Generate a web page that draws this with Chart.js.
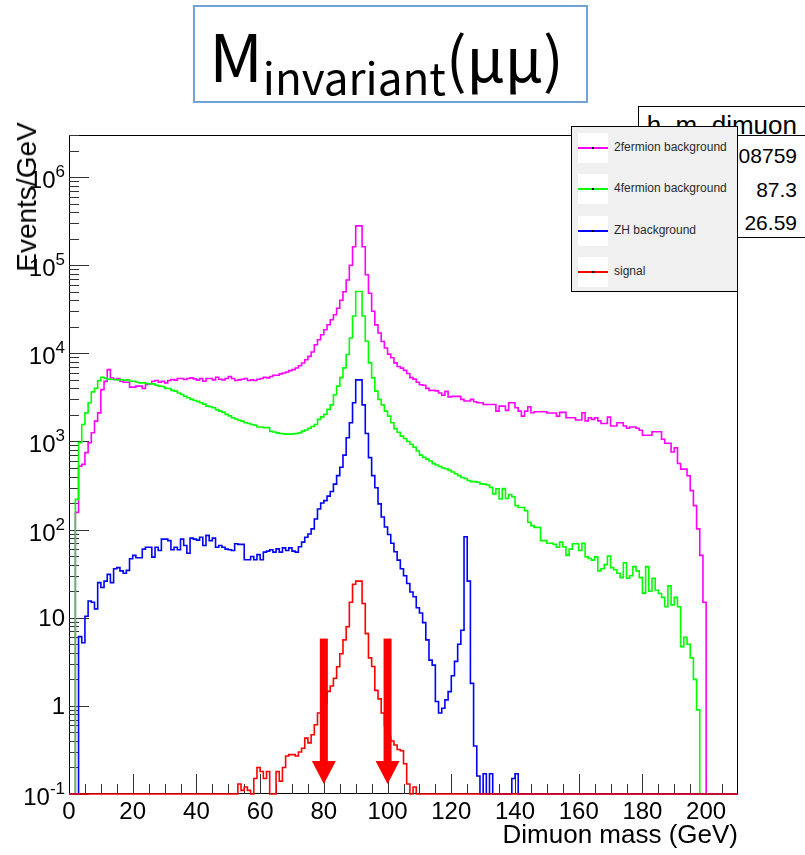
<!DOCTYPE html>
<html>
<head>
<meta charset="utf-8">
<title>M invariant (μμ)</title>
<script src="https://cdn.jsdelivr.net/npm/chart.js@4.4.1/dist/chart.umd.min.js"></script>
<style>
  html, body { margin: 0; padding: 0; background: #fff; }
  #wrap { position: relative; width: 805px; height: 855px; overflow: hidden; font-family: 'Liberation Sans', Arial, sans-serif; }
  #chart { position: absolute; left: 0; top: 0; }
  .abs { position: absolute; box-sizing: border-box; }
  #title-box { left: 193px; top: 5px; width: 395px; height: 98px; border: 2px solid #72a2d8; background: #fff;
               font-family: 'Noto Sans CJK JP', 'Noto Sans', sans-serif; color: #000; white-space: nowrap; }
  #title-box .line { position: absolute; left: 0; right: 8px; top: 12px; text-align: center; line-height: 68px; font-size: 66px; }
  #title-box .sub { font-size: 44px; vertical-align: -13px; }
  #title-box .mu { font-size: 61px; }
  #stats { left: 638px; top: 106px; width: 180px; height: 132px; border: 1px solid #000; background: #fff; }
  #stats .head { position: absolute; left: 0; top: 0; width: 100%; height: 28px; border-bottom: 1px solid #000; overflow: hidden; }
  #stats .txt { position: absolute; right: 20px; font-size: 26px; line-height: 26px; white-space: nowrap; }
  #stats .val { position: absolute; right: 20px; font-size: 21px; line-height: 22px; white-space: nowrap; }
  #legend { left: 571px; top: 126px; width: 167px; height: 166px; border: 1px solid #000; background: #f0f0f0; }
  .entry { position: absolute; left: 6px; width: 160px; height: 30px; }
  .entry .sw { position: absolute; left: 0; top: 0; width: 30px; height: 30px; background: #fff; }
  .entry .ln { position: absolute; left: 0; top: 14px; width: 30px; height: 2px; }
  .entry .dot { position: absolute; left: 14px; top: 14px; width: 2px; height: 2px; background: #000; }
  .entry .lab { position: absolute; left: 36px; top: 6px; font-size: 12px; line-height: 16px; color: #2a2a2a; white-space: nowrap; }
  #ytitle { left: 27px; top: 197px; font-size: 28px; line-height: 28px; white-space: nowrap; transform: translate(-50%, -50%) rotate(-90deg); }
  #xtitle { right: 67px; top: 820px; font-size: 26px; line-height: 28px; white-space: nowrap; }
</style>
</head>
<body>
<div id="wrap">
  <canvas id="chart" width="805" height="855"></canvas>
  <div id="title-box" class="abs"><div class="line">M<span class="sub">invariant</span><span class="mu">(μμ)</span></div></div>
  <div id="stats" class="abs"></div>
  <div id="legend" class="abs"></div>
  <div id="ytitle" class="abs">Events/GeV</div>
  <div id="xtitle" class="abs">Dimuon mass (GeV)</div>
</div>
<script>
// histogram: 1 GeV bins from 0 to 210
const X_MIN = 0, X_MAX = 210, BIN_WIDTH = 1;
const Y_MIN = 0.1, Y_MAX = 3e6;

const xTicks = [0, 20, 40, 60, 80, 100, 120, 140, 160, 180, 200];
const yTicks = [0.1, 1, 10, 100, 1000, 10000, 100000, 1000000];
// base and exponent of each y label ('' = no exponent)
const yTickBase = ['10', '1', '10', '10', '10', '10', '10', '10'];
const yTickExp = ['-1', '', '', '2', '3', '4', '5', '6'];

const seriesNames = ['2fermion background', '4fermion background', 'ZH background', 'signal'];
const seriesColors = ['#ff00ff', '#00ff00', '#0000ff', '#ff0000'];

// events per bin, bins 0..209
const twoFermion = [
  0, 0, 157, 525, 550, 746, 968, 1255, 1700, 2110,
  3870, 4800, 6530, 5250, 5040, 5170, 4830, 4700, 4700, 4130,
  4130, 4240, 4240, 3990, 4430, 4500, 4830, 4910, 4700, 4830,
  4620, 4910, 5040, 4960, 5170, 5170, 5040, 5170, 5260, 5130,
  4960, 5170, 4830, 5170, 5170, 5000, 5360, 5080, 5000, 5170,
  5450, 5170, 4910, 5000, 5080, 5170, 4910, 5000, 4910, 5080,
  5170, 5360, 5260, 5450, 5640, 5640, 5840, 5990, 6150, 6360,
  6530, 6820, 7240, 7760, 8470, 9240, 10350, 12500, 14260, 16230,
  18500, 21100, 24000, 27400, 32500, 40000, 50000, 68000, 100000, 162000,
  279000, 279000, 162000, 78000, 48000, 30000, 21000, 17000, 13600, 11500,
  9800, 8900, 7800, 7100, 6800, 6400, 5900, 5300, 5100, 4700,
  4400, 4350, 4000, 3800, 3800, 3750, 3550, 3350, 3700, 3200,
  3250, 3250, 3250, 3000, 2880, 2880, 3000, 2820, 2750, 2750,
  2630, 2630, 2630, 2630, 2210, 2520, 2520, 2250, 2750, 2750,
  2410, 2210, 1940, 2210, 2480, 2120, 2170, 2170, 2170, 2170,
  2100, 2100, 2100, 1940, 2140, 2140, 1860, 1860, 1860, 1750,
  1750, 2120, 1710, 1860, 1780, 1860, 1710, 1600, 1600, 1890,
  1500, 1500, 1630, 1630, 1500, 1410, 1460, 1460, 1410, 1340,
  1175, 1175, 1175, 1290, 1290, 1290, 1060, 955, 955, 760,
  850, 562, 485, 485, 408, 277, 187, 102, 51, 15,
  0, 0, 0, 0, 0, 0, 0, 0, 0, 0
];
const fourFermion = [
  0, 0, 220, 970, 1560, 2110, 2750, 3650, 4000, 4900,
  5350, 5200, 5100, 5040, 5040, 5000, 5040, 4950, 5000, 4830,
  4830, 4700, 4620, 4620, 4550, 4500, 4500, 4350, 4240, 4200,
  4000, 3990, 3800, 3720, 3550, 3410, 3250, 3130, 3000, 2920,
  2850, 2750, 2650, 2520, 2480, 2410, 2300, 2210, 2150, 2030,
  1950, 1860, 1800, 1740, 1700, 1630, 1600, 1560, 1530, 1460,
  1460, 1435, 1435, 1300, 1280, 1250, 1230, 1220, 1210, 1210,
  1220, 1230, 1250, 1310, 1350, 1410, 1480, 1560, 1780, 1900,
  2030, 2310, 2600, 3390, 4240, 5300, 6830, 9700, 14900, 26500,
  50300, 50300, 26500, 13700, 7800, 5260, 3720, 3000, 2600, 2210,
  1940, 1630, 1400, 1270, 1150, 1080, 1000, 930, 860, 780,
  700, 660, 630, 600, 560, 540, 520, 500, 490, 470,
  450, 430, 410, 390, 380, 360, 350, 350, 345, 330,
  328, 320, 301, 254, 290, 222, 292, 225, 250, 236,
  187, 178, 178, 164, 121, 111, 106, 106, 75, 75,
  70, 70, 68, 63, 72, 64, 51, 60, 69, 69,
  58, 70, 49, 47, 45, 49, 34, 36, 40, 50,
  37, 35, 32, 28.5, 42, 28, 30, 38, 34, 28.5,
  19, 38, 20, 28, 20.5, 18.8, 17, 13.3, 23, 14,
  17, 13.3, 4.7, 6, 5, 3.5, 2, 0.9, 0, 0,
  0, 0, 0, 0, 0, 0, 0, 0, 0, 0
];
const zhBackground = [
  0, 0, 0, 6.1, 5.2, 10.4, 15.5, 15, 12.6, 25,
  22, 26, 31, 25, 36, 37, 34, 32, 34.5, 46.7,
  51, 48, 48, 60, 63, 63, 48.7, 63, 58, 78,
  78, 75, 59, 63, 59, 78, 66, 54, 80, 78,
  76, 82, 66, 86, 75, 80, 63, 66, 63, 60,
  59, 58, 69, 68, 68, 45.5, 45.5, 49.6, 45.5, 52,
  45.5, 55.5, 57, 59, 55.5, 60.5, 55.5, 62, 58, 62,
  57, 55.5, 64, 72, 82, 89, 102, 132, 171, 200,
  213, 240, 270, 328, 410, 510, 700, 1100, 1630, 2750,
  5000, 5000, 2600, 1230, 656, 410, 298, 196, 139, 107,
  88, 70, 56, 45, 36, 30, 24.5, 19.6, 17.3, 13,
  11.3, 8.8, 5.6, 3.3, 2.9, 1.12, 0.83, 0.94, 1.17, 1.45,
  2.2, 3.2, 5, 7.2, 83, 26, 1.8, 0.35, 0.16, 0,
  0.17, 0, 0.17, 0, 0, 0, 0, 0, 0, 0.15,
  0.17, 0, 0, 0, 0, 0, 0, 0, 0, 0,
  0, 0, 0, 0, 0, 0, 0, 0, 0, 0,
  0, 0, 0, 0, 0, 0, 0, 0, 0, 0,
  0, 0, 0, 0, 0, 0, 0, 0, 0, 0,
  0, 0, 0, 0, 0, 0, 0, 0, 0, 0,
  0, 0, 0, 0, 0, 0, 0, 0, 0, 0,
  0, 0, 0, 0, 0, 0, 0, 0, 0, 0
];
const signal = [
  0, 0, 0, 0, 0, 0, 0, 0, 0, 0,
  0, 0, 0, 0, 0, 0, 0, 0, 0, 0,
  0, 0, 0, 0, 0, 0, 0, 0, 0, 0,
  0, 0, 0, 0, 0, 0, 0, 0, 0, 0,
  0, 0, 0, 0, 0, 0, 0, 0, 0, 0,
  0, 0, 0, 0.13, 0.11, 0.12, 0.11, 0, 0.15, 0.2,
  0.18, 0.15, 0.18, 0, 0, 0.18, 0.14, 0.2, 0.27, 0.28,
  0.28, 0.27, 0.3, 0.33, 0.43, 0.38, 0.47, 0.61, 0.83, 0.83,
  1.07, 1.46, 1.68, 2.06, 2.78, 3.9, 5.6, 7.9, 15, 24,
  26, 26, 14.5, 6.6, 3.5, 2.8, 1.5, 1.2, 0.83, 0.6,
  0.45, 0.4, 0.36, 0.32, 0.31, 0.22, 0.13, 0, 0.12, 0,
  0, 0, 0, 0, 0, 0, 0, 0, 0, 0,
  0, 0, 0, 0, 0, 0, 0, 0, 0, 0,
  0, 0, 0, 0, 0, 0, 0, 0, 0, 0,
  0, 0, 0, 0, 0, 0, 0, 0, 0, 0,
  0, 0, 0, 0, 0, 0, 0, 0, 0, 0,
  0, 0, 0, 0, 0, 0, 0, 0, 0, 0,
  0, 0, 0, 0, 0, 0, 0, 0, 0, 0,
  0, 0, 0, 0, 0, 0, 0, 0, 0, 0,
  0, 0, 0, 0, 0, 0, 0, 0, 0, 0,
  0, 0, 0, 0, 0, 0, 0, 0, 0, 0
];

// mass window cut arrows
const cutX = [80, 100];
const arrowTop = 5.8, arrowTip = 0.13;

const statsName = 'h_m_dimuon';
const statsValues = ['308759', '87.3', '26.59'];

const allSeries = [twoFermion, fourFermion, zhBackground, signal];

// empty bins sit on the frame bottom, as ROOT draws them
const toPlot = v => (v > 0 ? v : Y_MIN);
function histPoints(values) {
  const pts = values.map((v, i) => ({ x: X_MIN + i * BIN_WIDTH, y: toPlot(v) }));
  pts.push({ x: X_MIN + values.length * BIN_WIDTH, y: toPlot(values[values.length - 1]) });
  return pts;
}

const FONT = "'Liberation Sans', Arial, sans-serif";

// ROOT style frame with inward ticks, y labels with exponents, and the cut arrows
const rootFrame = {
  id: 'rootFrame',
  beforeDatasetsDraw(chart) {
    const { ctx, chartArea: a, scales: { x, y } } = chart;
    ctx.save();
    ctx.strokeStyle = '#000';
    ctx.lineWidth = 1;
    ctx.strokeRect(a.left + 0.5, a.top + 0.5, a.right - a.left - 1, a.bottom - a.top - 1);
    ctx.strokeStyle = '#333';
    ctx.beginPath();
    for (let e = -1; e <= 6; e++) {
      for (let m = 1; m <= 9; m++) {
        const v = m * Math.pow(10, e);
        if (v < Y_MIN || v > Y_MAX) continue;
        const py = Math.round(y.getPixelForValue(v)) + 0.5;
        ctx.moveTo(a.left, py);
        ctx.lineTo(a.left + (m === 1 ? 20 : 10), py);
      }
    }
    for (let v = X_MIN + 5; v < X_MAX; v += 5) {
      const px = Math.round(x.getPixelForValue(v)) + 0.5;
      ctx.moveTo(px, a.bottom);
      ctx.lineTo(px, a.bottom - (v % 20 === 0 ? 20 : 10));
    }
    ctx.stroke();

    // y tick labels
    ctx.fillStyle = '#000';
    ctx.textBaseline = 'alphabetic';
    ctx.textAlign = 'left';
    const right = a.left - 4;
    yTicks.forEach((v, i) => {
      const py = y.getPixelForValue(v);
      ctx.font = '24px ' + FONT;
      const wb = ctx.measureText(yTickBase[i]).width;
      let we = 0;
      if (yTickExp[i]) {
        ctx.font = '17px ' + FONT;
        we = ctx.measureText(yTickExp[i]).width;
      }
      const x0 = right - wb - we;
      ctx.font = '24px ' + FONT;
      const base = yTickExp[i] ? py + 11 : py + 8.5;
      ctx.fillText(yTickBase[i], x0, base);
      if (yTickExp[i]) {
        ctx.font = '17px ' + FONT;
        ctx.fillText(yTickExp[i], x0 + wb, base - 11);
      }
    });
    ctx.restore();
  },
  afterDatasetsDraw(chart) {
    const { ctx, scales: { x, y } } = chart;
    ctx.save();
    ctx.fillStyle = '#ff0000';
    cutX.forEach(c => {
      const px = x.getPixelForValue(c);
      const top = y.getPixelForValue(arrowTop);
      const tip = y.getPixelForValue(arrowTip);
      const head = 23;
      ctx.fillRect(px - 4, top, 8, tip - head - top + 1);
      ctx.beginPath();
      ctx.moveTo(px - 12, tip - head);
      ctx.lineTo(px + 12, tip - head);
      ctx.lineTo(px, tip);
      ctx.closePath();
      ctx.fill();
    });
    ctx.restore();
  }
};

new Chart(document.getElementById('chart'), {
  type: 'line',
  data: {
    datasets: allSeries.map((s, i) => ({
      label: seriesNames[i],
      data: histPoints(s),
      borderColor: seriesColors[i],
      borderWidth: 1.6,
      pointRadius: 0,
      stepped: true,
      fill: false,
      clip: 3,
      order: allSeries.length - i
    }))
  },
  options: {
    responsive: false,
    devicePixelRatio: 1,
    animation: false,
    layout: { padding: { top: 135, right: 67, left: 0, bottom: 0 } },
    plugins: { legend: { display: false }, tooltip: { enabled: false } },
    scales: {
      x: {
        type: 'linear', min: X_MIN, max: X_MAX,
        grid: { display: false, drawTicks: false, tickLength: 0 },
        border: { display: false },
        afterBuildTicks: s => { s.ticks = xTicks.map(v => ({ value: v })); },
        afterFit: s => { s.height = 61; },
        ticks: { color: '#000', font: { family: FONT, size: 24 }, padding: 4, maxRotation: 0, autoSkip: false }
      },
      y: {
        type: 'logarithmic', min: Y_MIN, max: Y_MAX,
        grid: { display: false, drawTicks: false, tickLength: 0 },
        border: { display: false },
        afterBuildTicks: s => { s.ticks = yTicks.map(v => ({ value: v })); },
        afterFit: s => { s.width = 69; },
        ticks: { display: false }
      }
    }
  },
  plugins: [rootFrame]
});

// stats box
const stats = document.getElementById('stats');
stats.innerHTML = '<div class="head"><div class="txt" style="top:5px">' + statsName + '</div></div>' +
  statsValues.map((v, i) => '<div class="val" style="top:' + (38 + i * 33.5) + 'px">' + v + '</div>').join('');

// legend
const legend = document.getElementById('legend');
legend.innerHTML = seriesNames.map((n, i) =>
  '<div class="entry" style="top:' + (6 + i * 41.3) + 'px"><div class="sw"></div>' +
  '<div class="ln" style="background:' + seriesColors[i] + '"></div><div class="dot"></div>' +
  '<div class="lab">' + n + '</div></div>').join('');
</script>
</body>
</html>
